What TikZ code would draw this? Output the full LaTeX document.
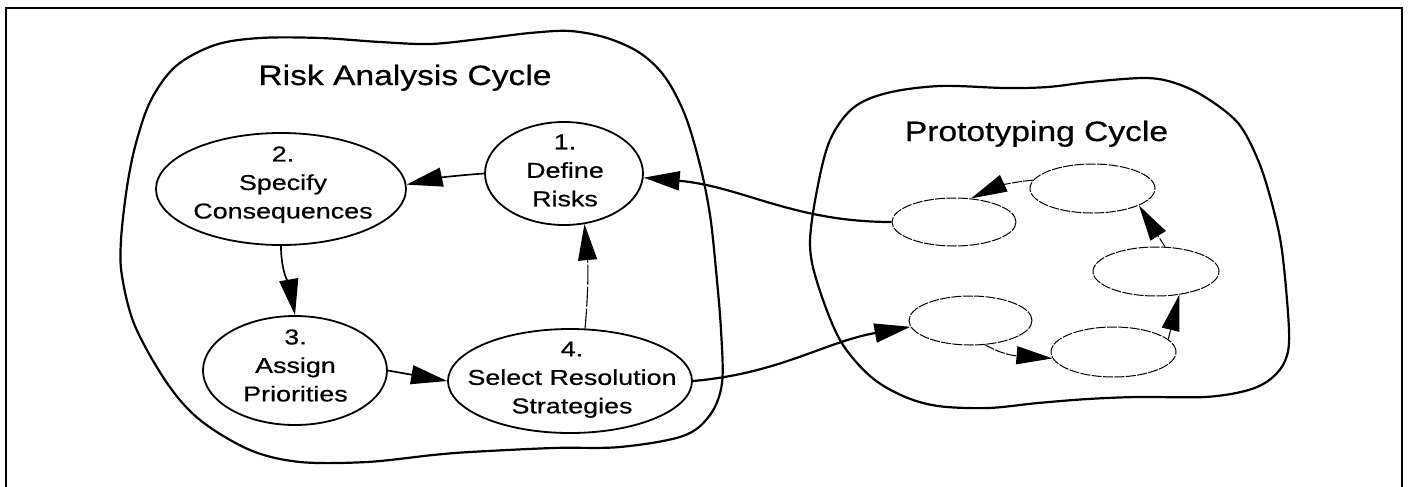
\documentclass[tikz,border=0pt]{standalone}
\usepackage{fontspec}
\setmainfont{Liberation Sans}
\newfontfamily\titlefont{Liberation Sans}[FakeStretch=1.2,FakeBold=0.6]
\newfontfamily\nodefont{Liberation Sans}[FakeStretch=1.25,FakeBold=0.6]
\usetikzlibrary{shapes.geometric,arrows.meta}
\begin{document}
\begin{tikzpicture}[x=0.5pt,y=0.5pt,
  blob/.style={line width=1.1pt, line join=round},
  rnode/.style={draw, ellipse, line width=0.9pt, inner sep=0pt},
  pnode/.style={draw, ellipse, line width=0.5pt, dash pattern=on 5pt off 0.7pt, inner sep=0pt},
  ntext/.style={align=center, font=\nodefont\fontsize{10.75}{14.25}\selectfont, inner sep=0pt},
  ttext/.style={font=\titlefont\fontsize{14}{16}\selectfont, inner sep=0pt, anchor=base},
  arr/.style={-{Triangle[length=18pt,width=9.5pt]}, line width=0.85pt},
  arrthick/.style={-{Triangle[length=18pt,width=9.5pt]}, line width=1.1pt},
  arrfaint/.style={-{Triangle[length=18pt,width=9.5pt]}, line width=0.55pt, dash pattern=on 10pt off 1pt},
  parr/.style={-{Triangle[length=18pt,width=9pt]}, line width=0.5pt, dash pattern=on 5pt off 0.7pt}
]
\useasboundingbox (0,0) rectangle (1408,-487);
\fill[white] (0,0) rectangle (1408,-487);
% frame
\draw[line width=1pt] (6,-490) -- (6,-8) -- (1402,-8) -- (1402,-490);
% left blob
\draw[blob] plot[smooth cycle, tension=0.55] coordinates {(121,-240) (127,-187) (136,-143) (151,-100) (176,-66) (215,-45) (260,-38) (320,-38) (380,-42) (430,-44) (480,-39) (530,-33) (570,-31) (607,-38) (640,-53) (665,-77) (685,-115) (700,-165) (710,-215) (716,-270) (721,-330) (722,-383) (710,-415) (683,-436) (620,-447) (553,-448) (470,-452) (433,-455) (367,-462) (300,-462) (250,-450) (200,-420) (167,-383) (135,-326) (122,-276)};
% right blob
\draw[blob] plot[smooth cycle, tension=0.55] coordinates {(810,-244) (817,-190) (830,-140) (853,-108) (887,-93) (940,-86) (1005,-88) (1048,-87) (1090,-82) (1145,-78) (1175,-83) (1205,-97) (1238,-123) (1258,-160) (1271,-200) (1281,-244) (1287,-300) (1289,-343) (1283,-365) (1268,-381) (1245,-391) (1205,-397) (1138,-397) (1088,-399) (1038,-403) (988,-408) (938,-406) (903,-396) (870,-376) (840,-340) (818,-285)};
% titles
\node[ttext] (rtitle) at (405,-85) {Risk Analysis Cycle};
\node[ttext] (ptitle) at (1036.5,-141) {Prototyping Cycle};
% risk analysis nodes
\node[rnode, minimum width=79pt, minimum height=51.5pt] (e1) at (564,-173.5) {};
\node[rnode, minimum width=125pt, minimum height=56pt] (e2) at (281,-189) {};
\node[rnode, minimum width=92pt, minimum height=54.5pt] (e3) at (295,-370.5) {};
\node[rnode, minimum width=122pt, minimum height=52pt] (e4) at (570,-381) {};
\node[ntext] (t1) at (565,-170.5) {1.\\Define\\Risks};
\node[ntext] (t2) at (283,-184.7) {2.\\Specify\\Consequences};
\node[ntext] (t3) at (295.5,-365.5) {3.\\Assign\\Priorities};
\node[ntext] (t4) at (572,-379.7) {4.\\Select Resolution\\Strategies};
% prototyping nodes
\node[pnode, minimum width=62pt, minimum height=24pt] (p1) at (954,-222) {};
\node[pnode, minimum width=62.5pt, minimum height=24.5pt] (p2) at (1092.5,-188.5) {};
\node[pnode, minimum width=63pt, minimum height=24.5pt] (p3) at (1156,-271.5) {};
\node[pnode, minimum width=62.5pt, minimum height=25pt] (p4) at (1113.5,-352) {};
\node[pnode, minimum width=61.5pt, minimum height=24.5pt] (p5) at (970.5,-320.5) {};
% arrows
\draw[arr] (e1.180) to[out=184,in=12] (e2.2);
\draw[arr] (e2.south) to[out=-90,in=100] (e3.north);
\draw[arr] (e3.east) -- (e4.west);
\draw[arrfaint] (e4.74) to[out=85,in=-85] (e1.-68);
\draw[arrthick] (p1.west) to[out=180,in=-5] (e1.-3);
\draw[arrthick] (e4.east) to[out=5,in=190] (p5.186);
\draw[parr] (p2.172) to[out=185,in=25] (p1.54);
\draw[parr] (p3.70) -- (p2.-20);
\draw[parr] (p4.13) -- (p3.-45);
\draw[parr] (p5.-59) to[out=-30,in=175] (p4.186);
\end{tikzpicture}
\end{document}
